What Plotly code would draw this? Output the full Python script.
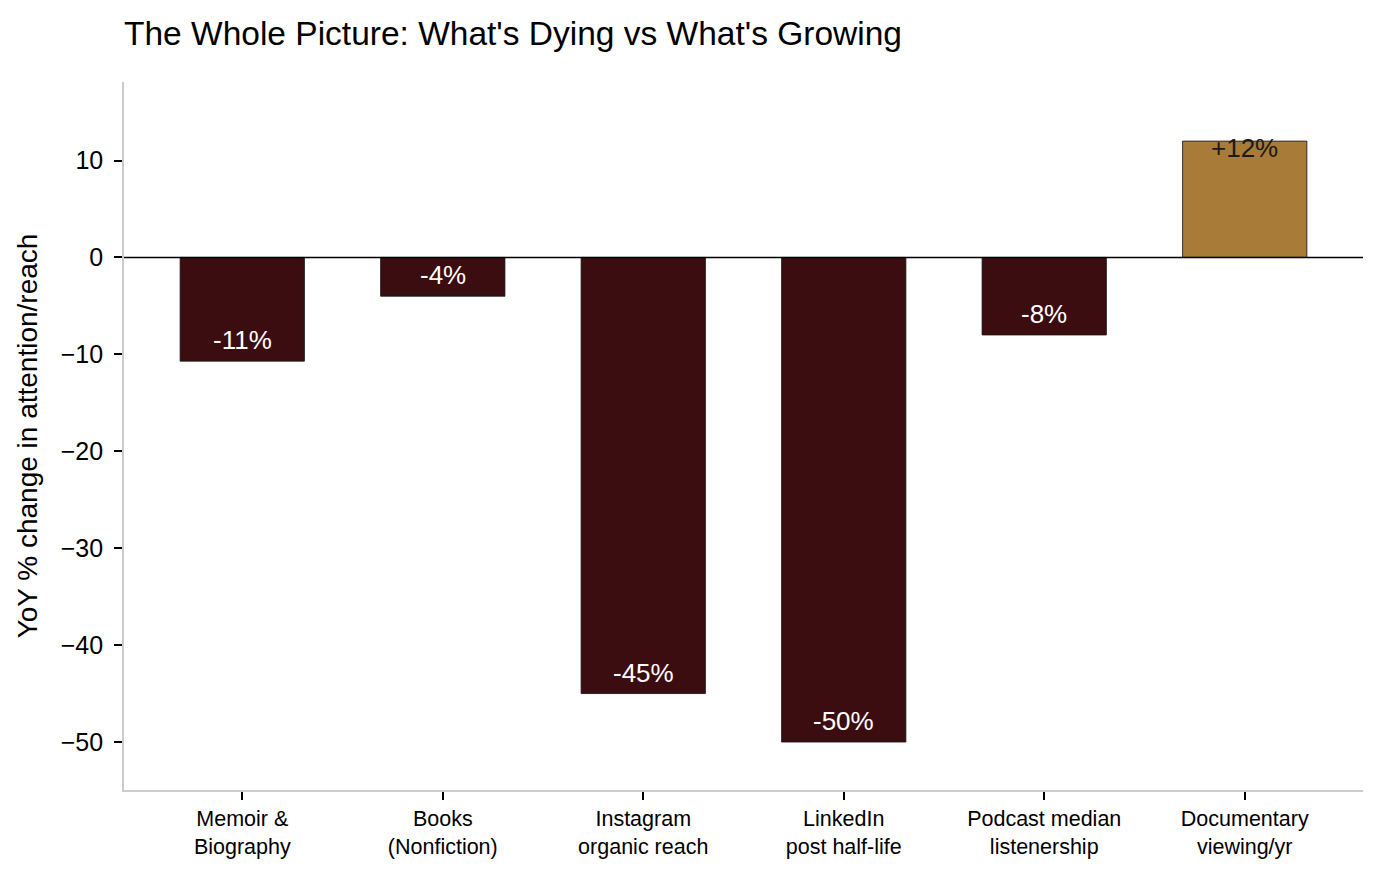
import plotly.graph_objects as go

# --- data ---
categories = ["Memoir &<br>Biography", "Books<br>(Nonfiction)", "Instagram<br>organic reach",
              "LinkedIn<br>post half-life", "Podcast median<br>listenership", "Documentary<br>viewing/yr"]
yoy_change = [-10.7, -4, -45, -50, -8, 12]
y_ticks = [-50, -40, -30, -20, -10, 0, 10]

DARK = "#3b0d11"
GOLD = "#a87b38"
FONT = "Liberation Sans, Arial, Helvetica, sans-serif"

# page body has an 8px margin, so the figure is a bit smaller than the window
W, H = 1367, 859

colors = [GOLD if v > 0 else DARK for v in yoy_change]
x_idx = list(range(len(categories)))

fig = go.Figure()
fig.add_trace(go.Bar(
    x=x_idx,
    y=yoy_change,
    width=0.62,
    marker=dict(color=colors, line=dict(color="#111111", width=0.8)),
    hoverinfo="skip",
))

# value labels just inside the bar ends
for i, v in enumerate(yoy_change):
    fig.add_annotation(
        x=i, y=v, text=f"{v:+.0f}%" if v > 0 else f"{v:.0f}%",
        showarrow=False, yanchor="middle",
        yshift=21 if v < 0 else -7,
        font=dict(family=FONT, size=26, color="white" if v < 0 else "#1a1a1a"),
    )

fig.add_hline(y=0, line=dict(color="black", width=1.6))

fig.update_layout(
    width=W, height=H,
    paper_bgcolor="white", plot_bgcolor="white",
    margin=dict(l=116, r=12, t=74, b=77),
    showlegend=False,
    font=dict(family=FONT, size=22, color="black"),
    title=dict(text="The Whole Picture: What's Dying vs What's Growing",
               x=116 / W, xanchor="left", y=1 - 25 / H, yanchor="middle",
               font=dict(family=FONT, size=33.5, color="black")),
    xaxis=dict(
        tickmode="array", tickvals=x_idx, ticktext=categories,
        range=[-0.59, 5.59], showgrid=False, zeroline=False, automargin=False,
        showline=True, linecolor="#cccccc", linewidth=1.6,
        ticks="outside", ticklen=8, tickwidth=1.6, tickcolor="black",
        tickfont=dict(family=FONT, size=21.5, color="black"),
    ),
    yaxis=dict(
        range=[-54.95, 18.1], tickvals=y_ticks,
        showgrid=False, zeroline=False, automargin=False,
        showline=True, linecolor="#cccccc", linewidth=1.6,
        ticks="outside", ticklen=8, tickwidth=1.6, tickcolor="black",
        ticklabelstandoff=6,
        tickfont=dict(family=FONT, size=25, color="black"),
        title=dict(text="YoY % change in attention/reach",
                   font=dict(family=FONT, size=28, color="black"), standoff=15),
    ),
)

fig.write_html("out.html")
